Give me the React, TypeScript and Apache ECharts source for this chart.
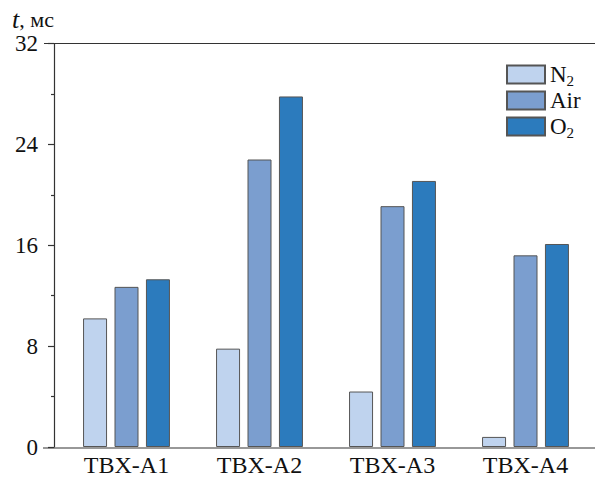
import React, { useEffect, useRef } from "react";
import * as echarts from "echarts";

const categories = ["TBX-A1", "TBX-A2", "TBX-A3", "TBX-A4"];
const n2Values = [10.2, 7.8, 4.4, 0.8];
const airValues = [12.7, 22.8, 19.1, 15.2];
const o2Values = [13.3, 27.8, 21.1, 16.1];
const yTicks = [0, 8, 16, 24, 32];

const FONT = "'Liberation Serif', serif";

export default function App() {
  const ref = useRef<HTMLDivElement>(null);
  useEffect(() => {
    if (!ref.current) return;
    const chart = echarts.init(ref.current, null, { renderer: "svg" });
    const border = { borderColor: "#555", borderWidth: 1 };
    chart.setOption({
      animation: false,
      textStyle: { fontFamily: FONT },
      grid: { left: 60, right: 3, top: 43.5, bottom: 29 },
      legend: {
        orient: "vertical",
        left: 501,
        top: 56,
        itemWidth: 38,
        itemHeight: 18,
        itemGap: 1,
        icon: "rect",
        textStyle: {
          fontFamily: FONT,
          fontSize: 23,
          color: "#111",
          lineHeight: 18,
          rich: {
            m: { fontFamily: FONT, fontSize: 23, color: "#111", lineHeight: 18 },
            s: { fontFamily: FONT, fontSize: 15, color: "#111", lineHeight: 18, padding: [12, 0, 0, 0] },
          },
        },
        formatter: (name: string) => {
          if (name === "N2") return "{m|N}{s|2}";
          if (name === "O2") return "{m|O}{s|2}";
          return "{m|" + name + "}";
        },
        data: ["N2", "Air", "O2"],
      },
      xAxis: {
        type: "category",
        data: categories,
        axisLine: { show: false },
        axisTick: { show: false },
        axisLabel: { fontFamily: FONT, fontSize: 24, color: "#111", margin: 6 },
      },
      yAxis: {
        type: "value",
        min: 0,
        max: 32,
        interval: 8,
        offset: 6,
        axisLine: { show: true, lineStyle: { color: "#333", width: 1.2 } },
        axisTick: { show: true, length: 6, lineStyle: { color: "#333", width: 1.2 } },
        minorTick: { show: true, splitNumber: 2, length: 3, lineStyle: { color: "#333", width: 1.2 } },
        splitLine: { show: false },
        axisLabel: {
          fontFamily: FONT,
          fontSize: 23,
          color: "#111",
          margin: 16,
          formatter: (v: number) => (yTicks.includes(v) ? String(v) : ""),
        },
      },
      graphic: [
        {
          type: "line",
          shape: { x1: 44, y1: 43.5, x2: 595, y2: 43.5 },
          style: { stroke: "#333", lineWidth: 1.2 },
        },
        {
          type: "line",
          shape: { x1: 43, y1: 448, x2: 595, y2: 448 },
          style: { stroke: "#333", lineWidth: 1.2 },
        },
        {
          type: "text",
          left: 12,
          top: 6,
          style: {
            text: "{i|t}{n|, мс}",
            rich: {
              i: { fontFamily: FONT, fontStyle: "italic", fontSize: 26, fill: "#111" },
              n: { fontFamily: FONT, fontSize: 22, fill: "#111" },
            },
          },
        },
      ],
      series: [
        {
          name: "N2",
          type: "bar",
          data: n2Values,
          barWidth: 24,
          barGap: "31%",
          itemStyle: { color: "#bfd3ee", ...border },
        },
        {
          name: "Air",
          type: "bar",
          data: airValues,
          barWidth: 24,
          barGap: "31%",
          itemStyle: { color: "#7b9ecf", ...border },
        },
        {
          name: "O2",
          type: "bar",
          data: o2Values,
          barWidth: 24,
          barGap: "31%",
          itemStyle: { color: "#2c7bbd", ...border },
        },
      ],
    });
    return () => chart.dispose();
  }, []);
  return (
    <div
      ref={ref}
      style={{ position: "absolute", left: 0, top: 0, width: 595, height: 477 }}
    />
  );
}
